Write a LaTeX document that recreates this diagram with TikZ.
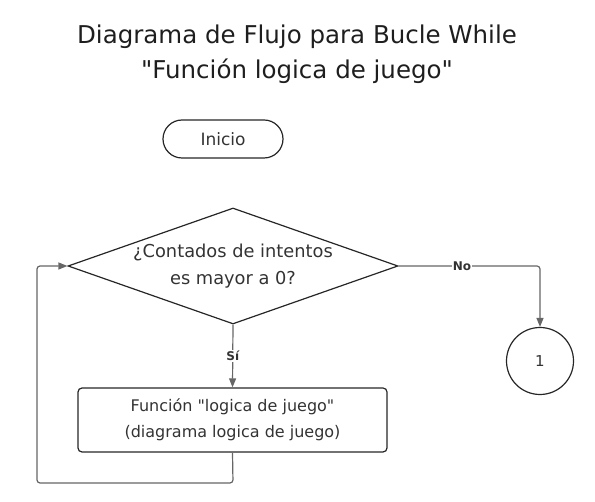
\documentclass[tikz,border=0pt]{standalone}
\usepackage{fontspec}
\setmainfont{DejaVu Sans}
\usetikzlibrary{shapes.geometric,arrows.meta}
\definecolor{txt}{HTML}{333333}
\definecolor{ttl}{HTML}{1E1E1E}
\definecolor{ln}{HTML}{666666}
\newcommand{\dq}{\textquotedbl}
\tikzset{
  shapeline/.style={draw=black!85, line width=1.2pt, text=txt},
  conn/.style={draw=ln, line width=1.2pt, rounded corners=3pt},
  arr/.style={conn, -{Triangle[length=9pt,width=7pt]}},
  lbl/.style={fill=white, text=txt, font=\fontsize{12}{14}\selectfont\bfseries, inner sep=1pt}
}
\begin{document}
\begin{tikzpicture}[x=1pt,y=-1pt]
\useasboundingbox (0,0) rectangle (595,502);
\node[text=ttl, align=center, font=\fontsize{24.5}{35}\selectfont] (title) at (297,54) {Diagrama de Flujo para Bucle While\\\dq Función logica de juego\dq};
\node[shapeline, rounded corners=19pt, minimum width=120pt, minimum height=38pt, font=\fontsize{17}{18}\selectfont] (inicio) at (223,139) {Inicio};
\node[shapeline, diamond, aspect=2.85, minimum width=330pt, minimum height=116pt, inner sep=0pt] (dec) at (233,266) {};
\node[text=txt, align=center, font=\fontsize{17.8}{27}\selectfont] (dectxt) at (233,266) {¿Contados de intentos\\es mayor a 0?};
\node[shapeline, rounded corners=4pt, minimum width=309pt, minimum height=64pt, align=center, font=\fontsize{16}{26}\selectfont] (func) at (232.5,420) {Función \dq logica de juego\dq\\(diagrama logica de juego)};
\node[shapeline, circle, minimum size=67pt, inner sep=0pt, font=\fontsize{15}{16}\selectfont] (one) at (540,361) {1};
\coordinate (c1) at (233,483);
\coordinate (c2) at (37,483);
\coordinate (c3) at (37,266);
\coordinate (c4) at (540,266);
\draw[arr] (dec.south) -- node[lbl, pos=0.5] {Sí} (func.north);
\draw[arr] (func.south) -- (c1) -- (c2) -- (c3) -- (dec.west);
\draw[arr] (dec.east) -- (c4) -- (one.north);
\node[lbl] (no) at (462,266) {No};
\end{tikzpicture}
\end{document}
